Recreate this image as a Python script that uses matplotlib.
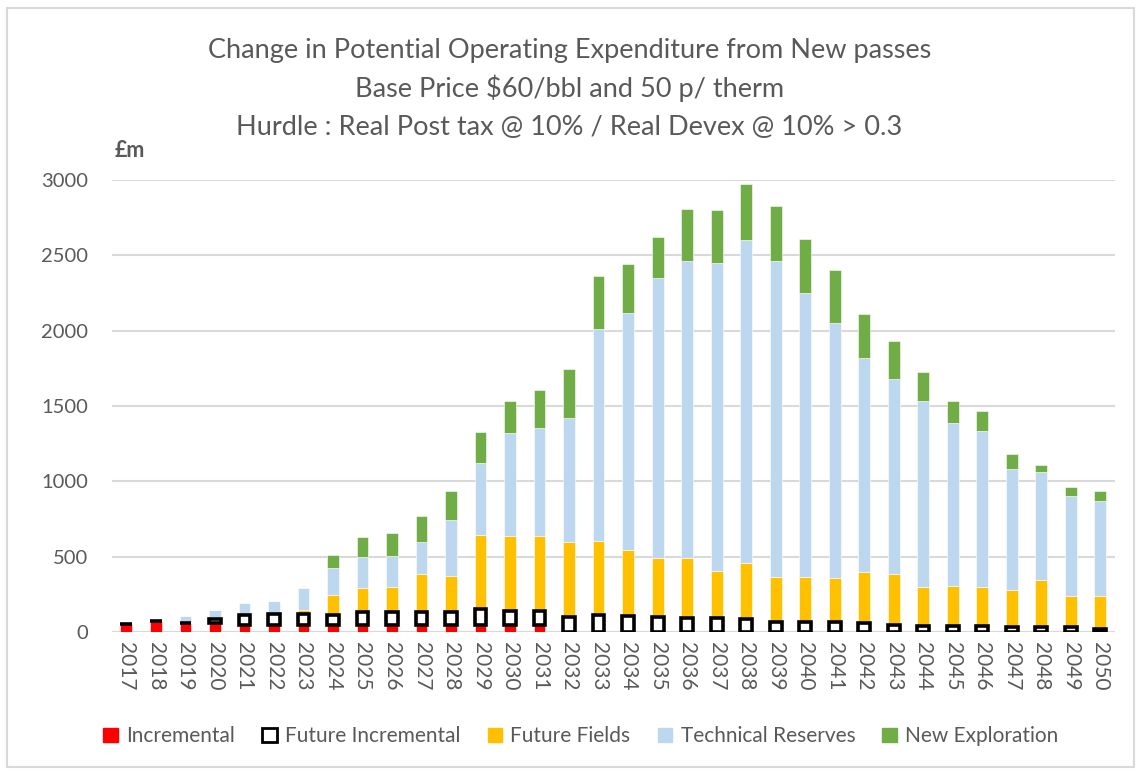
#!/usr/bin/env python3
"""Stacked opex bars by resource category, 2017-2050 (new passes, $60/bbl & 50p/therm)."""
import numpy as np
import matplotlib.pyplot as plt
from matplotlib.patches import Patch, Rectangle

plt.rcParams["font.family"] = ["Lato", "DejaVu Sans"]

years = list(range(2017, 2051))
incremental = [55, 73, 64, 58, 48, 48, 48, 48, 50, 50, 50, 50, 50, 50, 50,
               0, 0, 0, 0, 0, 0, 0, 0, 0, 0, 0, 0, 0, 0, 0, 0, 0, 0, 0]
future_incr = [0, 0, 0, 32, 64, 70, 70, 68, 85, 83, 83, 83, 105, 93, 93,
               102, 112, 110, 103, 96, 96, 85, 67, 67, 67, 60, 51, 40, 40, 40, 33, 33, 33, 24]
future_fields = [9, 9, 0, 0, 0, 6, 27, 130, 156, 167, 254, 242, 492, 497, 497,
                 498, 494, 435, 392, 399, 311, 373, 298, 298, 290, 340, 334, 258, 265, 258,
                 247, 314, 205, 214]
tech_reserves = [0, 0, 44, 58, 80, 86, 148, 180, 207, 207, 213, 367, 477, 682, 715,
                 821, 1407, 1570, 1858, 1971, 2041, 2142, 2099, 1887, 1692, 1420, 1292,
                 1236, 1083, 1039, 802, 719, 665, 632]
new_expl = [0, 0, 0, 0, 0, 0, 0, 86, 133, 153, 170, 198, 205, 212, 253,
            324, 349, 331, 272, 344, 355, 373, 366, 357, 357, 288, 253, 193, 146, 128,
            103, 44, 62, 68]

series = [
    ("Incremental", incremental, "#FF0000"),
    ("Future Incremental", future_incr, "white"),
    ("Future Fields", future_fields, "#FFC000"),
    ("Technical Reserves", tech_reserves, "#BDD7EE"),
    ("New Exploration", new_expl, "#70AD47"),
]

GREY = "#595959"
fig = plt.figure(figsize=(11.39, 7.71), dpi=100)
ax = fig.add_axes([0.098, 0.180, 0.881, 0.5865])

x = np.arange(len(years))
bottom = np.zeros(len(years))
handles = []
for name, vals, col in series:
    vals = np.array(vals, dtype=float)
    if name == "Future Incremental":
        ax.bar(x, vals, 0.4, bottom=bottom, color="white", edgecolor="black", lw=2.6, zorder=3)
        handles.append(Patch(facecolor="white", edgecolor="black", lw=2, label=name))
    else:
        ax.bar(x, vals, 0.4, bottom=bottom, color=col, edgecolor="white", lw=0.4, zorder=2)
        handles.append(Patch(facecolor=col, edgecolor=col, label=name))
    bottom += vals

ax.set_xlim(-0.5, len(years) - 0.5)
ax.set_ylim(0, 3000)
ax.set_yticks(range(0, 3001, 500))
ax.set_xticks(x)
ax.set_xticklabels([str(y) for y in years], rotation=-90, fontsize=15, color=GREY)
ax.tick_params(axis="y", labelsize=14.5, labelcolor=GREY, length=0, pad=17)
ax.tick_params(axis="x", length=0, pad=7)
ax.grid(axis="y", color="#D9D9D9", lw=1.5, zorder=0)
for s in ax.spines.values():
    s.set_visible(False)
ax.axhline(0, color="#D9D9D9", lw=1.5, zorder=1)

fig.text(0.5, 0.935, "Change in Potential Operating Expenditure from New passes",
         ha="center", va="center", fontsize=19.5, color=GREY)
fig.text(0.5, 0.885, "Base Price $60/bbl and 50 p/ therm",
         ha="center", va="center", fontsize=19.5, color=GREY)
fig.text(0.5, 0.834, "Hurdle : Real Post tax @ 10% / Real Devex @ 10% > 0.3",
         ha="center", va="center", fontsize=19.5, color=GREY)
fig.text(0.114, 0.805, "£m", ha="center", va="center", fontsize=15.5, fontweight="bold", color=GREY)

fig.legend(handles=handles, loc="center", bbox_to_anchor=(0.51, 0.045), ncol=5,
           frameon=False, fontsize=15, handlelength=0.7, handleheight=0.7,
           handletextpad=0.4, columnspacing=1.3, labelcolor=GREY)

fig.patches.append(Rectangle((0.006, 0.005), 0.99, 0.985, transform=fig.transFigure,
                             fill=False, edgecolor="#D9D9D9", lw=1.5))

fig.savefig("out.png", dpi=100)
